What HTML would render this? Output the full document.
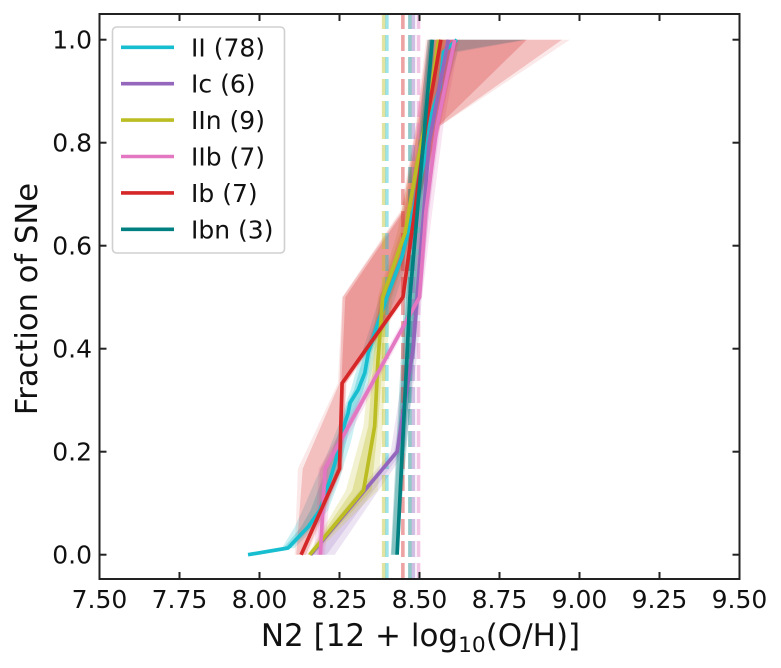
<!DOCTYPE html>
<html>
<head>
<meta charset="utf-8">
<title>Fraction of SNe vs N2 metallicity</title>
<style>
html,body{margin:0;padding:0;background:#fff;width:781px;height:668px;overflow:hidden}
svg{display:block}
text{font-family:"DejaVu Sans","Liberation Sans",sans-serif;fill:#111}
</style>
</head>
<body>
<svg id="chart" width="781" height="668" viewBox="0 0 781 668" xmlns="http://www.w3.org/2000/svg">
  <g id="bands"></g>
  <g id="vlines"></g>
  <g id="series"></g>
  <g id="axes"></g>
  <text x="420.5" y="646" text-anchor="middle" font-size="31">N2 [12 + log<tspan dy="6" font-size="21.7">10</tspan><tspan dy="-6">(O/H)]</tspan></text>
  <text transform="translate(37,299) rotate(-90)" text-anchor="middle" font-size="30.6">Fraction of SNe</text>
  <g id="legend"></g>
</svg>
<script>
const xTicks = ["7.50","7.75","8.00","8.25","8.50","8.75","9.00","9.25","9.50"];
const yTicks = ["0.0","0.2","0.4","0.6","0.8","1.0"];

const seriesNames = ["II (78)","Ic (6)","IIn (9)","IIb (7)","Ib (7)","Ibn (3)"];
const seriesColors = ["#17becf","#9467bd","#bcbd22","#e377c2","#d62728","#008080"];
const medians = [8.398,8.481,8.388,8.497,8.448,8.47];

const iiFrac = [0,0.013,0.054,0.087,0.145,0.178,0.217,0.256,0.275,0.295,0.32,0.353,0.392,0.45,0.5,0.578,0.683,0.766,0.85,0.908,0.976,1];
const iiX = [7.964,8.089,8.152,8.189,8.22,8.236,8.252,8.267,8.277,8.283,8.308,8.329,8.34,8.37,8.398,8.445,8.486,8.515,8.535,8.564,8.575,8.617];
const iiOuterLo = [7.964,8.07,8.11,8.135,8.175,8.2,8.225,8.25,8.26,8.27,8.285,8.3,8.32,8.35,8.375,8.43,8.475,8.5,8.52,8.54,8.56,8.6];
const iiOuterHi = [7.964,8.11,8.175,8.215,8.25,8.265,8.285,8.3,8.31,8.325,8.335,8.35,8.36,8.395,8.425,8.465,8.5,8.53,8.555,8.585,8.62,8.835];
const iiInnerLo = [7.964,8.075,8.13,8.16,8.195,8.215,8.235,8.258,8.265,8.275,8.295,8.31,8.328,8.36,8.385,8.44,8.48,8.51,8.53,8.555,8.57,8.61];
const iiInnerHi = [7.964,8.1,8.165,8.2,8.24,8.255,8.27,8.285,8.295,8.31,8.325,8.34,8.35,8.385,8.41,8.455,8.495,8.52,8.545,8.575,8.6,8.83];

const icFrac = [0,0.2,0.4,0.6,0.8,1];
const icX = [8.16,8.43,8.48,8.505,8.53,8.59];
const icOuterLo = [8.15,8.41,8.46,8.49,8.51,8.56];
const icOuterHi = [8.235,8.455,8.495,8.52,8.55,8.62];
const icInnerLo = [8.155,8.42,8.47,8.5,8.52,8.57];
const icInnerHi = [8.21,8.445,8.488,8.512,8.54,8.61];

const iinFrac = [0,0.125,0.25,0.375,0.5,0.625,0.75,0.875,1];
const iinX = [8.157,8.325,8.36,8.37,8.385,8.455,8.49,8.53,8.56];
const iinOuterLo = [8.15,8.27,8.325,8.345,8.37,8.43,8.47,8.515,8.54];
const iinOuterHi = [8.17,8.37,8.385,8.395,8.415,8.48,8.51,8.55,8.59];
const iinInnerLo = [8.152,8.29,8.34,8.355,8.375,8.44,8.48,8.52,8.55];
const iinInnerHi = [8.165,8.35,8.37,8.385,8.4,8.47,8.5,8.54,8.58];

const iibFrac = [0,0.167,0.333,0.5,0.667,0.833,1];
const iibX = [8.19,8.205,8.352,8.5,8.52,8.555,8.61];
const iibOuterLo = [8.17,8.185,8.338,8.49,8.5,8.53,8.58];
const iibOuterHi = [8.205,8.225,8.366,8.508,8.54,8.575,8.625];
const iibInnerLo = [8.18,8.19,8.345,8.495,8.51,8.54,8.59];
const iibInnerHi = [8.2,8.215,8.36,8.505,8.53,8.565,8.62];

const ibFrac = [0,0.167,0.333,0.5,0.667,0.833,1];
const ibX = [8.13,8.25,8.258,8.448,8.485,8.52,8.567];
const ibOuterLo = [8.11,8.12,8.245,8.258,8.44,8.488,8.52];
const ibOuterHi = [8.15,8.262,8.272,8.46,8.495,8.566,8.97];
const ibMidLo = [8.115,8.135,8.25,8.26,8.445,8.49,8.525];
const ibMidHi = [8.145,8.258,8.27,8.455,8.49,8.564,8.945];
const ibInnerLo = [8.13,8.25,8.256,8.268,8.45,8.495,8.53];
const ibInnerHi = [8.135,8.255,8.262,8.45,8.488,8.56,8.835];

const ibnFrac = [0,0.5,1];
const ibnX = [8.43,8.47,8.54];
const ibnOuterLo = [8.41,8.452,8.525];
const ibnOuterHi = [8.431,8.5,8.548];
const ibnInnerLo = [8.412,8.458,8.53];
const ibnInnerHi = [8.43,8.49,8.54];

const seriesData = [
  {f:iiFrac,x:iiX,bands:[[iiOuterLo,iiOuterHi,0.22],[iiInnerLo,iiInnerHi,0.32]]},
  {f:icFrac,x:icX,bands:[[icOuterLo,icOuterHi,0.18],[icInnerLo,icInnerHi,0.2]]},
  {f:iinFrac,x:iinX,bands:[[iinOuterLo,iinOuterHi,0.2],[iinInnerLo,iinInnerHi,0.3]]},
  {f:iibFrac,x:iibX,bands:[[iibOuterLo,iibOuterHi,0.2],[iibInnerLo,iibInnerHi,0.25]]},
  {f:ibFrac,x:ibX,bands:[[ibOuterLo,ibOuterHi,0.1],[ibMidLo,ibMidHi,0.22],[ibInnerLo,ibInnerHi,0.25]]},
  {f:ibnFrac,x:ibnX,bands:[[ibnOuterLo,ibnOuterHi,0.25],[ibnInnerLo,ibnInnerHi,0.3]]}
];

const NS = "http://www.w3.org/2000/svg";
const xAxis = v => 99.5 + (v - 7.5) * 320;
const yAxis = v => 554.7 - v * 515;
const make = (tag, parent, attrs) => {
  const el = document.createElementNS(NS, tag);
  for (const k in attrs) el.setAttribute(k, attrs[k]);
  parent.appendChild(el);
  return el;
};
const bandGroup = document.getElementById("bands");
const vlines = document.getElementById("vlines");
const seriesGroup = document.getElementById("series");
const axes = document.getElementById("axes");
const legend = document.getElementById("legend");

medians.forEach((m, i) => {
  const el = make("line", vlines, {x1:xAxis(m), x2:xAxis(m), y1:579, y2:14, stroke:seriesColors[i], "stroke-width":3.6, "stroke-dasharray":"16 6", opacity:0.42});
  
  
});

seriesData.forEach((s, i) => {
  s.bands.forEach(b => {
    const pts = [];
    s.f.forEach((f, j) => pts.push(xAxis(b[0][j]).toFixed(1) + "," + yAxis(f).toFixed(1)));
    for (let j = s.f.length - 1; j >= 0; j--) pts.push(xAxis(b[1][j]).toFixed(1) + "," + yAxis(s.f[j]).toFixed(1));
    const el = make("polygon", bandGroup, {points:pts.join(" "), fill:seriesColors[i], "fill-opacity":b[2]});
    
    
  });
  const linePts = s.f.map((f, j) => xAxis(s.x[j]).toFixed(1) + "," + yAxis(f).toFixed(1)).join(" ");
  const line = make("polyline", seriesGroup, {points:linePts, fill:"none", stroke:seriesColors[i], "stroke-width":3.7, "stroke-linejoin":"round"});
  
  
});

const frame = make("rect", axes, {x:99.5, y:14, width:640, height:565, fill:"none", stroke:"#222", "stroke-width":2});



xTicks.forEach(t => {
  const px = xAxis(parseFloat(t));
  [[579,572],[14,21]].forEach(p => {
    const tick = make("line", axes, {x1:px, x2:px, y1:p[0], y2:p[1], stroke:"#222", "stroke-width":2});
    
    
  });
  const label = make("text", axes, {x:px, y:608, "text-anchor":"middle", "font-size":25});
  label.textContent = t;
  
  
});

yTicks.forEach(t => {
  const py = yAxis(parseFloat(t));
  [[99.5,106.5],[739.5,732.5]].forEach(p => {
    const tick = make("line", axes, {x1:p[0], x2:p[1], y1:py, y2:py, stroke:"#222", "stroke-width":2});
    
    
  });
  const label = make("text", axes, {x:92, y:py + 9, "text-anchor":"end", "font-size":25});
  label.textContent = t;
  
  
});

const box = make("rect", legend, {x:112.5, y:27, width:172, height:226, rx:4, fill:"#fff", "fill-opacity":0.8, stroke:"#d0d0d0", "stroke-width":1.6});


seriesNames.forEach((n, i) => {
  const ly = 47.3 + i * 36.4;
  const sw = make("line", legend, {x1:121, x2:174, y1:ly, y2:ly, stroke:seriesColors[i], "stroke-width":3.6});
  
  
  const label = make("text", legend, {x:191, y:ly + 9, "font-size":25});
  label.textContent = n;
  
  
});
</script>
</body>
</html>
